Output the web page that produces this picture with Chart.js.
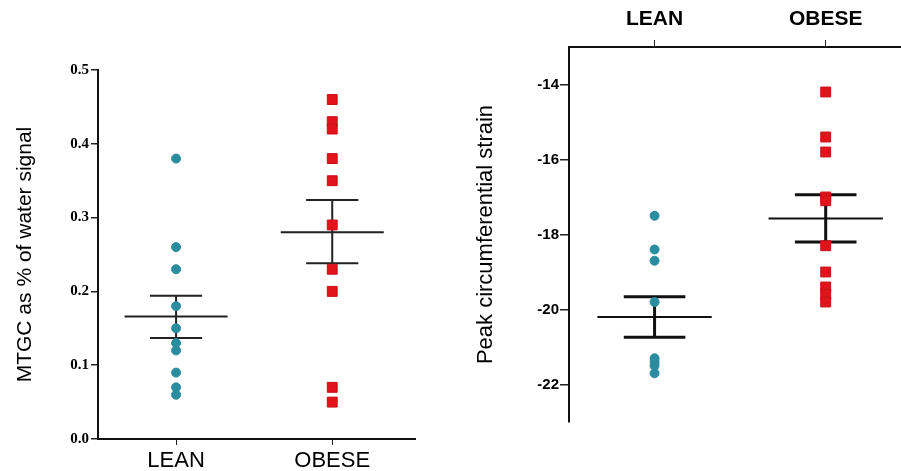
<!DOCTYPE html>
<html>
<head>
<meta charset="utf-8">
<script src="https://cdn.jsdelivr.net/npm/chart.js@4/dist/chart.umd.min.js"></script>
<style>
  html, body { margin: 0; padding: 0; background: #fff; }
  #wrap { position: relative; width: 901px; height: 471px; overflow: hidden; }
  #mtgc { position: absolute; left: 0; top: 0; }
  #strain { position: absolute; left: 450px; top: 0; }
</style>
</head>
<body>
<div id="wrap">
  <canvas id="mtgc" width="450" height="471"></canvas>
  <canvas id="strain" width="451" height="471"></canvas>
</div>
<script>
const groups = ["LEAN", "OBESE"];

// left panel: MTGC as % of water signal
const mtgcLean = [0.38, 0.26, 0.23, 0.18, 0.15, 0.13, 0.12, 0.09, 0.07, 0.06];
const mtgcObese = [0.46, 0.43, 0.42, 0.38, 0.35, 0.29, 0.23, 0.20, 0.07, 0.05];
const mtgcMean = [0.166, 0.280];
const mtgcSemHigh = [0.194, 0.324];
const mtgcSemLow = [0.137, 0.238];
const mtgcTicks = [0, 0.1, 0.2, 0.3, 0.4, 0.5];

// right panel: peak circumferential strain
const strainLean = [-17.5, -18.4, -18.7, -19.8, -21.3, -21.4, -21.5, -21.7];
const strainObese = [-14.2, -15.4, -15.8, -17.0, -17.1, -18.3, -19.0, -19.4, -19.6, -19.8];
const strainMean = [-20.2, -17.57];
const strainSemHigh = [-19.66, -16.94];
const strainSemLow = [-20.74, -18.2];
const strainTicks = [-22, -20, -18, -16, -14];

const TEAL = "#2a8c9f";
const RED = "#e3131b";

function toPoints(values, x) {
  return values.map(v => ({ x: x, y: v }));
}

// mean line + SEM bar for each group, broken with nulls
function meanLine(means, half) {
  const pts = [];
  means.forEach((m, i) => {
    pts.push({ x: i + 1 - half, y: m }, { x: i + 1 + half, y: m }, { x: i + 1, y: null });
  });
  return pts;
}
function semBars(hi, lo, cap) {
  const pts = [];
  hi.forEach((h, i) => {
    const x = i + 1;
    pts.push({ x: x - cap, y: h }, { x: x + cap, y: h }, { x: x, y: null });
    pts.push({ x: x - cap, y: lo[i] }, { x: x + cap, y: lo[i] }, { x: x, y: null });
    pts.push({ x: x, y: h }, { x: x, y: lo[i] }, { x: x, y: null });
  });
  return pts;
}

function categoryAxis(min, max, position, font, tickLen, pad, height) {
  return {
    type: "linear",
    position: position,
    min: min,
    max: max,
    afterBuildTicks: s => { s.ticks = groups.map((_, i) => ({ value: i + 1 })); },
    afterFit: s => {
      s.height = height;
      s.paddingLeft = 0;
      s.paddingRight = 0;
    },
    ticks: {
      callback: v => groups[v - 1] || "",
      color: "#000",
      font: font,
      padding: pad,
      maxRotation: 0,
      autoSkip: false
    },
    grid: { drawOnChartArea: false, drawTicks: true, tickLength: tickLen, color: "#222", lineWidth: 1 },
    border: { display: true, color: "#111", width: 2 }
  };
}

function valueAxis(min, max, ticks, fmt, font, tickLen, pad, width, title) {
  return {
    type: "linear",
    position: "left",
    min: min,
    max: max,
    afterBuildTicks: s => { s.ticks = ticks.map(v => ({ value: v })); },
    afterFit: s => { s.width = width; },
    ticks: { callback: fmt, color: "#000", font: font, padding: pad },
    grid: { drawOnChartArea: false, drawTicks: true, tickLength: tickLen, color: "#222", lineWidth: 1.5 },
    border: { display: true, color: "#111", width: 2 },
    title: title
  };
}

const baseOptions = {
  responsive: false,
  animation: false,
  plugins: { legend: { display: false }, tooltip: { enabled: false } }
};

new Chart(document.getElementById("mtgc"), {
  type: "scatter",
  data: {
    datasets: [
      { data: toPoints(mtgcLean, 1), pointStyle: "circle", pointRadius: 4.5, backgroundColor: TEAL, borderColor: TEAL, borderWidth: 1 },
      { data: toPoints(mtgcObese, 2), pointStyle: "rect", pointRadius: 7, backgroundColor: RED, borderColor: "#c81018", borderWidth: 1 },
      { type: "line", data: meanLine(mtgcMean, 0.33), borderColor: "#222", borderWidth: 2, pointRadius: 0, spanGaps: false },
      { type: "line", data: semBars(mtgcSemHigh, mtgcSemLow, 0.167), borderColor: "#222", borderWidth: 2, pointRadius: 0, spanGaps: false }
    ]
  },
  options: {
    ...baseOptions,
    layout: { autoPadding: false, padding: { top: 70, right: 35, bottom: 0, left: 0 } },
    scales: {
      x: categoryAxis(0.5, 2.53, "bottom", { family: "Liberation Sans, Arial", size: 22 }, 6, 3, 32),
      y: valueAxis(0, 0.5, mtgcTicks, v => v.toFixed(1),
        { family: "Liberation Serif, Times New Roman", size: 15, weight: "bold" }, 7, 2, 98,
        { display: true, text: "MTGC as % of water signal", color: "#000",
          font: { family: "Liberation Sans, Arial", size: 21 }, padding: { top: 13, bottom: 0 } })
    }
  }
});

new Chart(document.getElementById("strain"), {
  type: "scatter",
  data: {
    datasets: [
      { data: toPoints(strainLean, 1), pointStyle: "circle", pointRadius: 4.5, backgroundColor: TEAL, borderColor: TEAL, borderWidth: 1 },
      { data: toPoints(strainObese, 2), pointStyle: "rect", pointRadius: 7, backgroundColor: RED, borderColor: "#c81018", borderWidth: 1 },
      { type: "line", data: meanLine(strainMean, 0.334), borderColor: "#111", borderWidth: 2, pointRadius: 0, spanGaps: false },
      { type: "line", data: semBars(strainSemHigh, strainSemLow, 0.18), borderColor: "#111", borderWidth: 3, pointRadius: 0, spanGaps: false }
    ]
  },
  options: {
    ...baseOptions,
    layout: { autoPadding: false, padding: { top: 0, right: 0, bottom: 49, left: 0 } },
    scales: {
      x: categoryAxis(0.5, 2.44, "top", { family: "Liberation Sans, Arial", size: 21, weight: "bold" }, 7, 8, 47),
      y: valueAxis(-23, -13, strainTicks, v => String(v),
        { family: "Liberation Sans, Arial", size: 15, weight: "bold" }, 9, 1, 119,
        { display: true, text: "Peak circumferential strain", color: "#000",
          font: { family: "Liberation Sans, Arial", size: 22 }, padding: { top: 23, bottom: 0 } })
    }
  }
});
</script>
</body>
</html>
